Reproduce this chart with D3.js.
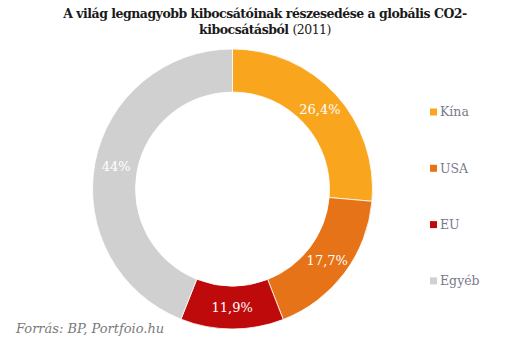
<!DOCTYPE html>
<html>
<head>
<meta charset="utf-8">
<script src="https://cdn.jsdelivr.net/npm/d3@7"></script>
<style>
  html, body { margin: 0; padding: 0; background: #fff; }
  svg { display: block; }
</style>
</head>
<body>
<svg id="chart" width="530" height="341"></svg>
<script>
// Share of global CO2 emissions, 2011
const categories = ["Kína", "USA", "EU", "Egyéb"];
const shares = [26.4, 17.7, 11.9, 44];
const valueLabels = ["26,4%", "17,7%", "11,9%", "44%"];
const colors = ["#F9A51E", "#E67317", "#BF0A0B", "#D0D0D0"];

const svg = d3.select("#chart");
const serif = "Georgia, 'DejaVu Serif', 'Liberation Serif', serif";

// Title
const title = svg.append("text")
  .attr("text-anchor", "middle")
  .attr("font-family", serif)
  .attr("font-size", 12.5)
  .attr("font-weight", "bold")
  .attr("letter-spacing", -0.5)
  .attr("fill", "#1a1a1a");
title.append("tspan").attr("x", 265).attr("y", 18)
  .text("A világ legnagyobb kibocsátóinak részesedése a globális CO2-");
const l2 = title.append("tspan").attr("x", 265).attr("y", 34);
l2.append("tspan").text("kibocsátásból ");
l2.append("tspan").attr("font-weight", "normal").text("(2011)");

// Donut
const cx = 232.5, cy = 189, rOuter = 140, rInner = 97;
const pie = d3.pie().sort(null).value(d => d.v);
const arcs = pie(categories.map((c, i) => ({ c, v: shares[i], i })));
const arc = d3.arc().innerRadius(rInner).outerRadius(rOuter);
const labelArc = d3.arc().innerRadius((rInner + rOuter) / 2).outerRadius((rInner + rOuter) / 2);

const g = svg.append("g").attr("transform", `translate(${cx},${cy})`);
g.selectAll("path.slice")
  .data(arcs)
  .join("path")
  .attr("class", "slice")
  .attr("d", arc)
  .attr("fill", d => colors[d.data.i])
  .attr("stroke", "#fff")
  .attr("stroke-width", 0.8);

g.selectAll("text.val")
  .data(arcs)
  .join("text")
  .attr("class", "val")
  .attr("transform", d => `translate(${labelArc.centroid(d)})`)
  .attr("text-anchor", "middle")
  .attr("dy", "0.35em")
  .attr("font-family", serif)
  .attr("font-size", 13)
  .attr("fill", "#fff")
  .text(d => valueLabels[d.data.i]);

// Legend
const legend = svg.append("g").attr("transform", "translate(430,112)");
const item = legend.selectAll("g")
  .data(categories)
  .join("g")
  .attr("transform", (d, i) => `translate(0,${i * 56.3})`);
item.append("rect")
  .attr("x", 0).attr("y", -3.5)
  .attr("width", 7).attr("height", 7)
  .attr("fill", (d, i) => colors[i]);
item.append("text")
  .attr("x", 10).attr("y", 0)
  .attr("dy", "0.35em")
  .attr("font-family", serif)
  .attr("font-size", 12.5)
  .attr("fill", "#7a7a8a")
  .text(d => d);

// Source note
svg.append("text")
  .attr("x", 16).attr("y", 333)
  .attr("font-family", serif)
  .attr("font-style", "italic")
  .attr("font-size", 13)
  .attr("fill", "#7a7a7a")
  .text("Forrás: BP, Portfoio.hu");
</script>
</body>
</html>
